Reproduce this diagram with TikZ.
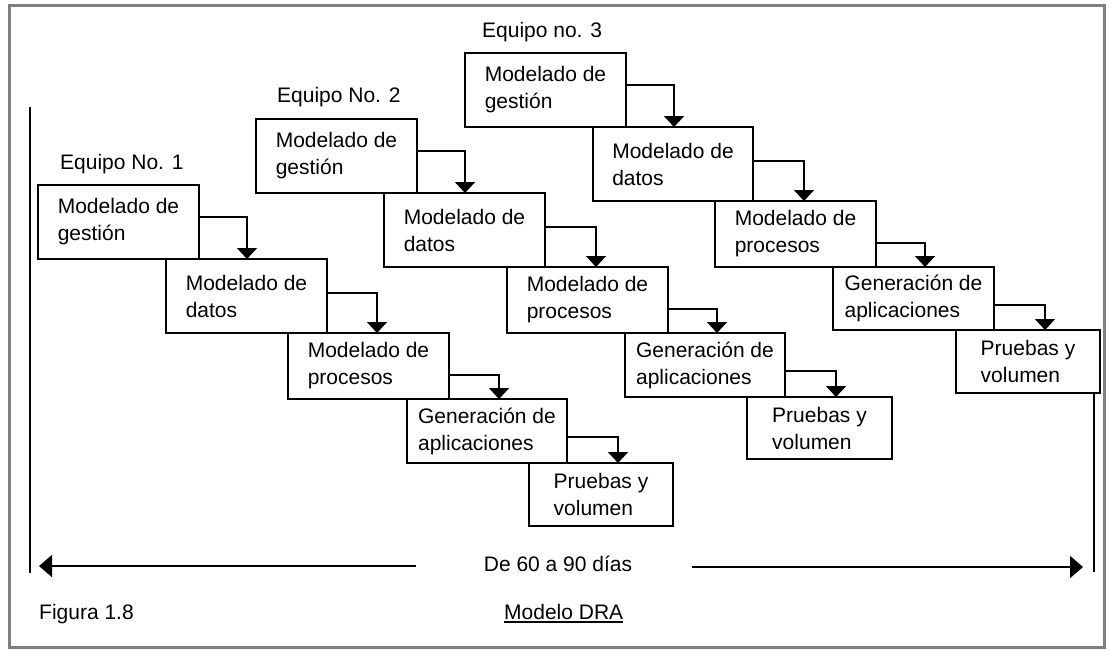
\documentclass[tikz,border=0pt]{standalone}
\usepackage{fontspec}
\setmainfont{Liberation Sans}
\usetikzlibrary{arrows.meta,calc}
\definecolor{framegray}{RGB}{128,128,128}
\begin{document}
\begin{tikzpicture}[x=1pt,y=-1pt,
  box/.style={draw, line width=1.8pt, fill=white, align=left, inner sep=0pt, outer sep=0pt,
              font=\fontsize{21}{27}\selectfont},
  lab/.style={inner sep=0pt, anchor=base west, font=\fontsize{21}{25}\selectfont},
  conn/.style={line width=1.8pt, -{Triangle[width=20pt,length=11pt]}},
  span/.style={line width=1.8pt, -{Triangle[width=22pt,length=13pt]}},
  edge/.style={line width=1.8pt}
]
\useasboundingbox (0,0) rectangle (1110,651);
\fill[white] (0,0) rectangle (1110,651);
\draw[framegray, line width=3pt] (9,5) rectangle (1104,647);

% side markers
\coordinate (l1) at (30,107);
\coordinate (l2) at (30,573);
\coordinate (r1) at (1094,394);
\coordinate (r2) at (1094,572);
\draw[edge] (l1) -- (l2);
\draw[edge] (r1) -- (r2);

% Team 1
\node[lab] (t1) at (60,169) {Equipo No. 1};
\node[box, minimum width=161pt, minimum height=74pt] (a1) at (118.5,222) {Modelado de\\gestión};
\node[box, minimum width=161pt, minimum height=74pt] (a2) at (246.5,296) {Modelado de\\datos};
\node[box, minimum width=161pt, minimum height=66pt] (a3) at (368.5,366) {Modelado de\\procesos};
\node[box, minimum width=160pt, minimum height=64pt] (a4) at (487,431) {Generación de\\aplicaciones};
\node[box, minimum width=144pt, minimum height=63pt] (a5) at (601,494.5) {Pruebas y\\volumen};

% Team 2
\node[lab] (t2) at (277,102) {Equipo No. 2};
\node[box, minimum width=161pt, minimum height=74pt] (b1) at (336.5,156) {Modelado de\\gestión};
\node[box, minimum width=161pt, minimum height=74pt] (b2) at (464.5,230) {Modelado de\\datos};
\node[box, minimum width=161pt, minimum height=66pt] (b3) at (587.5,300) {Modelado de\\procesos};
\node[box, minimum width=160pt, minimum height=64pt] (b4) at (705,365) {Generación de\\aplicaciones};
\node[box, minimum width=145pt, minimum height=62pt] (b5) at (819.5,428) {Pruebas y\\volumen};

% Team 3
\node[lab] (t3) at (482,37) {Equipo no. 3};
\node[box, minimum width=161pt, minimum height=74pt] (c1) at (545.5,90) {Modelado de\\gestión};
\node[box, minimum width=160pt, minimum height=74pt] (c2) at (673,164) {Modelado de\\datos};
\node[box, minimum width=161pt, minimum height=66pt] (c3) at (795.5,234) {Modelado de\\procesos};
\node[box, minimum width=161pt, minimum height=63pt] (c4) at (913.5,298.5) {Generación de\\aplicaciones};
\node[box, minimum width=144pt, minimum height=63pt] (c5) at (1028,361.5) {Pruebas y\\volumen};

% connectors
\foreach \t in {a,b,c}{
  \draw[conn] ($(\t1.north east)+(0,32)$) -| ($(\t2.north west)+(81,0)$);
  \draw[conn] ($(\t2.north east)+(0,34)$) -| ($(\t3.north west)+(89,0)$);
  \draw[conn] ($(\t3.north east)+(0,42)$) -| ($(\t4.north west)+(92,0)$);
  \draw[conn] ($(\t4.north east)+(0,38)$) -| ($(\t5.north west)+(89,0)$);
}

% duration
\node[inner sep=0pt, font=\fontsize{21}{25}\selectfont] (dias) at (558,564) {De 60 a 90 días};
\coordinate (la) at (416,566);
\coordinate (lt) at (39,566);
\coordinate (ra) at (692,567);
\coordinate (rt) at (1083,567);
\draw[span] (la) -- (lt);
\draw[span] (ra) -- (rt);

% caption
\node[lab] (fig) at (39,619) {Figura 1.8};
\node[lab] (mdra) at (504,619) {Modelo DRA};
\draw[line width=1.5pt] ([yshift=-3pt]mdra.base west) -- ([yshift=-3pt]mdra.base east);
\end{tikzpicture}
\end{document}
